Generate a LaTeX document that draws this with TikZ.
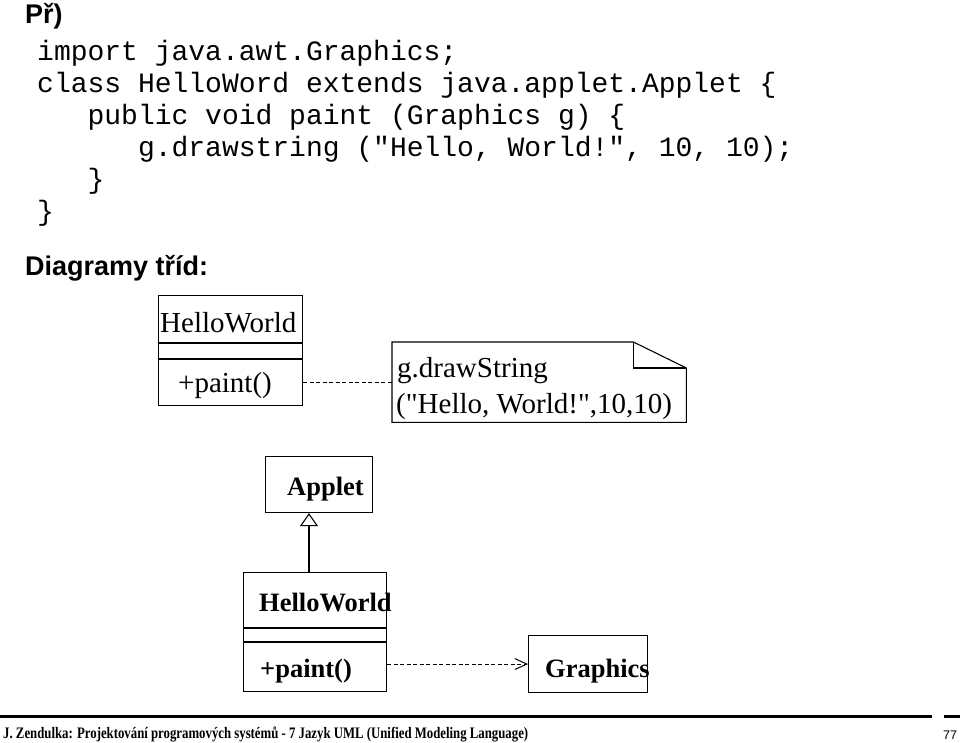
\documentclass[tikz,border=0pt]{standalone}
\usepackage{fontspec}
\usepackage{graphicx}
\setmainfont{Liberation Serif}
\newfontfamily\tnr{Liberation Serif}
\newfontfamily\codefont{Liberation Mono}
\newfontfamily\arialfont{Liberation Sans}
\usetikzlibrary{arrows.meta}
\begin{document}
\begin{tikzpicture}[x=1pt,y=-1pt,
  box/.style={draw, line width=1.1pt, inner sep=0pt, anchor=north west},
  code/.style={anchor=base west, inner sep=0pt, font=\codefont\fontsize{28}{32}\selectfont},
  head/.style={anchor=base west, inner sep=0pt, font=\arialfont\bfseries\fontsize{27}{32}\selectfont},
  uml/.style={anchor=base west, inner sep=0pt, font=\tnr\fontsize{29}{34}\selectfont},
  umlb/.style={anchor=base west, inner sep=0pt, font=\tnr\bfseries\fontsize{26.5}{32}\selectfont},
  sep/.style={line width=1.1pt},
  dep/.style={line width=1pt, dash pattern=on 4pt off 2.5pt},
  rule/.style={line width=3pt}]
\useasboundingbox (0,0) rectangle (960,742);
\fill[white] (0,0) rectangle (960,742);

% heading and code
\node[head] (pr) at (25,23) {Př)};
\node[code] (c1) at (37,60) {import java.awt.Graphics;};
\node[code] (c2) at (37,92) {class HelloWord extends java.applet.Applet \{};
\node[code] (c3) at (87.4,124) {public void paint (Graphics g) \{};
\node[code] (c4) at (137.8,156) {g.drawstring ("Hello, World!", 10, 10);};
\node[code] (c5) at (87.4,188) {\}};
\node[code] (c6) at (37,220) {\}};
\node[head] (dg) at (25,275) {Diagramy tříd:};

% first class box
\node[box, minimum width=144pt, minimum height=110pt] (hw1) at (158,295) {};
\draw[sep] ([yshift=-48pt]hw1.north west) -- ([yshift=-48pt]hw1.north east);
\draw[sep] ([yshift=-64pt]hw1.north west) -- ([yshift=-64pt]hw1.north east);
\node[uml] (hw1n) at (160,332) {HelloWorld};
\node[uml] (hw1p) at (178,392) {+paint()};

% note
\node[anchor=north west, minimum width=294pt, minimum height=80pt, inner sep=0pt] (note) at (392,342) {};
\draw[sep] (note.north west) -- ([xshift=-53pt]note.north east) -- ([yshift=-26pt]note.north east)
  -- (note.south east) -- (note.south west) -- cycle;
\draw[sep] ([xshift=-53pt]note.north east) -- ([xshift=-53pt,yshift=-26pt]note.north east)
  -- ([yshift=-26pt]note.north east);
\node[uml] (nt1) at (397,377) {g.drawString};
\node[uml] (nt2) at (396,413) {("Hello, World!",10,10)};
\draw[dep] (hw1.east |- note.west) -- (note.west);

% Applet
\node[box, minimum width=107pt, minimum height=56pt] (ap) at (265,456) {};
\node[umlb] (apn) at (287,495) {Applet};

% second HelloWorld
\node[box, minimum width=143pt, minimum height=119pt] (hw2) at (243,572) {};
\draw[sep] ([yshift=-56pt]hw2.north west) -- ([yshift=-56pt]hw2.north east);
\draw[sep] ([yshift=-70pt]hw2.north west) -- ([yshift=-70pt]hw2.north east);
\node[umlb] (hw2n) at (259,611) {HelloWorld};
\node[umlb] (hw2p) at (260,677) {+paint()};

% Graphics
\node[box, minimum width=119pt, minimum height=57pt] (gr) at (528,635) {};
\node[umlb] (grn) at (545,677) {Graphics};

% generalization
\coordinate (gen) at (309,572);
\draw[line width=1.1pt, -{Triangle[open, width=18pt, length=13pt, line width=1.1pt]}] (gen) -- (gen |- ap.south);

% dependency
\draw[dep, -{Straight Barb[length=12pt, width=11pt, line width=1pt]}] (hw2.east |- gr.west) -- (gr.west);

% footer
\coordinate (fl) at (0,716);
\coordinate (fr) at (932,716);
\coordinate (fs) at (944,716);
\coordinate (fe) at (960,716);
\draw[rule] (fl) -- (fr);
\draw[rule] (fs) -- (fe);
\node[anchor=base west, inner sep=0pt, font=\tnr\bfseries\fontsize{16}{18}\selectfont] (ft) at (3,738)
  {\resizebox{525pt}{\height}{J. Zendulka: Projektování programových systémů - 7 Jazyk UML (Unified Modeling Language)}};
\node[anchor=base west, inner sep=0pt, font=\arialfont\fontsize{12.5}{14}\selectfont] (pg) at (943,739) {77};
\end{tikzpicture}
\end{document}
